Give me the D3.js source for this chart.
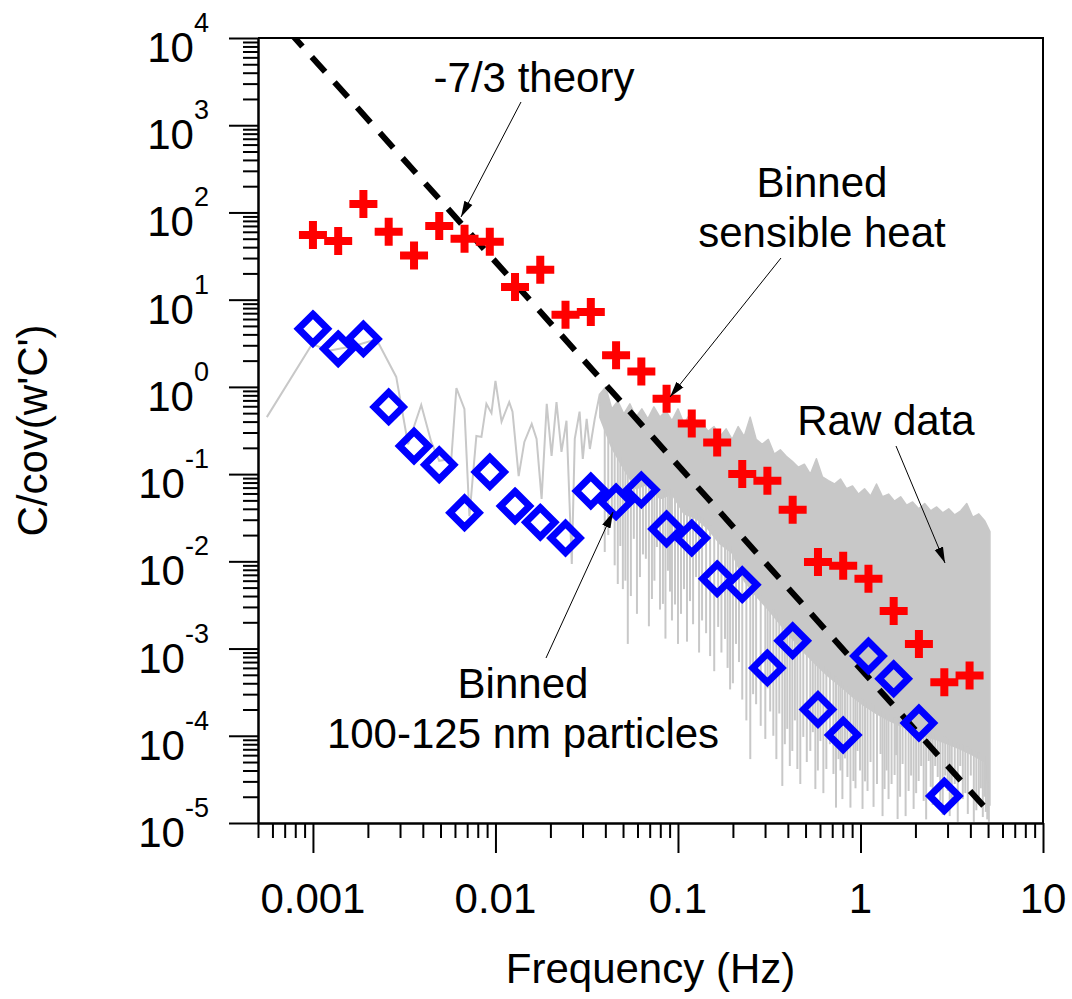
<!DOCTYPE html>
<html>
<head>
<meta charset="utf-8">
<script src="https://cdn.jsdelivr.net/npm/d3@7"></script>
<style>
  body { margin: 0; background: #fff; }
  svg { display: block; font-family: "Liberation Sans", Arial, sans-serif; }
</style>
</head>
<body>
<svg id="chart" width="1072" height="999"></svg>
<script>
// Binned cospectra (one bin every ~0.14 decade)
const binFreq = [0.001, 0.001375, 0.00189, 0.0026, 0.00358, 0.00492, 0.00677, 0.00931, 0.0128,
  0.0176, 0.0242, 0.0333, 0.0458, 0.063, 0.0866, 0.119, 0.164, 0.225, 0.309, 0.425, 0.585,
  0.804, 1.106, 1.52, 2.09, 2.88, 3.96];
const heatValues = [55, 47, 125, 60, 32, 70, 50, 46, 14, 22, 6.7, 7.2, 2.3, 1.5, 0.73, 0.38,
  0.23, 0.1, 0.084, 0.039, 0.0098, 0.0089, 0.0063, 0.0027, 0.00113, 0.00041, 0.00049];
const particleValues = [4.63, 2.73, 3.55, 0.59, 0.21, 0.128, 0.036, 0.106, 0.043, 0.028, 0.0185,
  0.064, 0.048, 0.066, 0.0235, 0.0185, 0.0063, 0.0054, 0.0006, 0.00123, 0.0002, 0.000102,
  0.00082, 0.00045, 0.00014, 0.0000204];

// Raw spectrum, low frequency part (single visible trace)
const rawLowFreq = [0.000559, 0.00099, 0.00122, 0.00168, 0.00211, 0.0023, 0.00286, 0.00332,
  0.00392, 0.00445, 0.00492, 0.00573, 0.00611, 0.00676, 0.0072, 0.00786, 0.00838, 0.00892,
  0.00951, 0.01, 0.0108, 0.0119, 0.0124, 0.0134, 0.0144, 0.0158, 0.0168, 0.0179, 0.0191,
  0.0203, 0.0216, 0.023, 0.0245, 0.0262, 0.0272, 0.0289, 0.0301, 0.0316, 0.0329, 0.035];
const rawLowValue = [0.45, 3.1, 2.6, 2.95, 3.4, 3.1, 1.3, 0.22, 0.62, 0.234, 0.142, 0.149, 0.97,
  0.56, 0.033, 0.274, 0.267, 0.64, 0.5, 1.17, 0.4, 0.67, 0.52, 0.095, 0.234, 0.376, 0.253,
  0.052, 0.64, 0.162, 0.67, 0.18, 0.41, 0.0093, 0.253, 0.52, 0.149, 0.43, 0.194, 0.43];

// Raw spectrum, high frequency part: dense band (upper edge, lower edge of solid core)
const bandFreq = [0.0373, 0.0402, 0.0434, 0.0468, 0.0505, 0.0545, 0.0588, 0.0634, 0.0684,
  0.0738, 0.0797, 0.0859, 0.0927, 0.1, 0.1079, 0.1164, 0.1256, 0.1355, 0.1462, 0.1577, 0.1701,
  0.1835, 0.198, 0.2137, 0.2305, 0.2487, 0.2683, 0.2895, 0.3124, 0.337, 0.3636, 0.3922, 0.4231,
  0.4566, 0.4926, 0.5314, 0.5733, 0.6185, 0.6674, 0.72, 0.7768, 0.838, 0.9041, 0.9754, 1.052,
  1.135, 1.224, 1.321, 1.425, 1.537, 1.659, 1.789, 1.93, 2.083, 2.247, 2.424, 2.615, 2.822,
  3.044, 3.284, 3.543, 3.823, 4.124, 4.45, 4.801, 5.12];
const bandTop = [0.83, 1.0, 0.56, 0.69, 0.49, 0.64, 0.45, 0.56, 0.43, 0.59, 0.45, 0.53, 0.41,
  0.56, 0.38, 0.49, 0.35, 0.38, 0.31, 0.35, 0.27, 0.33, 0.25, 0.35, 0.27, 0.45, 0.25, 0.22,
  0.25, 0.17, 0.19, 0.16, 0.14, 0.12, 0.13, 0.1, 0.15, 0.093, 0.084, 0.077, 0.088, 0.068,
  0.073, 0.059, 0.068, 0.056, 0.077, 0.055, 0.059, 0.049, 0.055, 0.044, 0.048, 0.04, 0.046,
  0.038, 0.042, 0.036, 0.04, 0.034, 0.038, 0.046, 0.032, 0.035, 0.029, 0.022];
const bandBottomFreq = [0.0373, 0.0434, 0.0505, 0.0588, 0.0684, 0.0797, 0.0927, 0.1079,
  0.1256, 0.1462, 0.1701, 0.198, 0.2305, 0.2683, 0.3124, 0.3636, 0.4231, 0.4926, 0.5733,
  0.6674, 0.7768, 0.9041, 1.052, 1.224, 1.425, 1.659, 1.93, 2.247, 2.615, 3.044, 3.543,
  4.124, 4.801, 5.12];
const bandBottom = [0.45, 0.2, 0.115, 0.068, 0.077, 0.052, 0.059, 0.035, 0.031, 0.0235,
  0.0158, 0.0125, 0.006, 0.004, 0.0028, 0.0019, 0.0013, 0.0009, 0.00065, 0.00048, 0.00037,
  0.00028, 0.00022, 0.00018, 0.00015, 0.00013, 0.000115, 0.0001, 0.00009, 0.00008,
  0.00007, 0.00006, 0.00005, 0.000016];

// Downward spikes below the band
const spikeFreq = [0.0397, 0.0415, 0.0434, 0.045, 0.0468, 0.0483, 0.0499, 0.0515, 0.0531,
  0.0552, 0.0573, 0.0596, 0.0619, 0.0643, 0.0667, 0.0693, 0.072, 0.0743, 0.0767, 0.0797,
  0.0827, 0.0854, 0.0881, 0.0904, 0.0927, 0.0963, 0.1, 0.1039, 0.1079, 0.1121, 0.1164, 0.121,
  0.1256, 0.1305, 0.1355, 0.1426, 0.15, 0.158, 0.166, 0.173, 0.181, 0.187, 0.193, 0.2, 0.208,
  0.216, 0.225, 0.237, 0.249, 0.258, 0.268, 0.284, 0.301, 0.31, 0.32, 0.333, 0.346, 0.359,
  0.373, 0.385, 0.397, 0.41, 0.423, 0.437, 0.451, 0.468, 0.486, 0.508, 0.531, 0.548, 0.566,
  0.584, 0.603, 0.626, 0.65, 0.68, 0.711, 0.734, 0.758, 0.777, 0.796, 0.822, 0.848, 0.881,
  0.915, 0.939, 0.963, 0.994, 1.026, 1.059, 1.093, 1.135, 1.179, 1.232, 1.288, 1.321, 1.355,
  1.39, 1.425, 1.48, 1.538, 1.567, 1.597, 1.648, 1.701, 1.767, 1.835, 1.894, 1.955, 2.018,
  2.083, 2.15, 2.219, 2.29, 2.364, 2.425, 2.487, 2.567, 2.649, 2.734, 2.822, 2.912, 3.006,
  3.083, 3.162, 3.285, 3.412, 3.522, 3.636, 3.752, 3.873, 4.022, 4.178, 4.312, 4.45, 4.563,
  4.68, 4.77, 4.86, 4.95, 5.05];
const spikeValue = [0.0128, 0.02, 0.0306, 0.009, 0.0055, 0.015, 0.0048, 0.006, 0.00113, 0.004,
  0.0181, 0.0025, 0.0066, 0.012, 0.0107, 0.0018, 0.0037, 0.006, 0.0146, 0.0028, 0.00325,
  0.0013, 0.0078, 0.0045, 0.0021, 0.0032, 0.00113, 0.0025, 0.0048, 0.0012, 0.0035, 0.0019,
  0.0066, 0.0009, 0.0021, 0.0015, 0.00082, 0.00055, 0.00177, 0.0009, 0.00129, 0.0006,
  0.00034, 0.0004, 0.00113, 0.0007, 0.00026, 0.00015, 0.000054, 0.0003, 0.00023, 0.00013,
  0.000092, 0.00035, 0.00019, 0.0001, 0.000054, 0.00018, 0.0000266, 0.00008, 0.00012,
  0.000045, 0.000067, 0.00015, 0.0000416, 0.000028, 0.000097, 0.00005, 0.000067, 0.00011,
  0.0000245, 0.00004, 0.000087, 0.000022, 0.0000416, 0.00008, 0.0000365, 0.000015, 0.000054,
  0.00004, 0.0000188, 0.000055, 0.0000337, 0.000015, 0.0000303, 0.000025, 0.000067, 0.00004,
  0.0000145, 0.00003, 0.0000233, 0.00005, 0.0000153, 0.000028, 0.0000618, 0.000012,
  0.0000245, 0.00004, 0.0000188, 0.000028, 0.0000355, 0.00006, 0.0000111, 0.00002,
  0.0000475, 0.000012, 0.0000233, 0.000035, 0.0000145, 0.000022, 0.0000303, 0.000045,
  0.0000179, 0.000011, 0.0000514, 0.000026, 0.0000161, 0.000045, 0.0000337, 0.000018,
  0.0000124, 0.000035, 0.0000233, 0.000012, 0.0000161, 0.000028, 0.0000103, 0.000045,
  0.0000188, 0.000022, 0.0000127, 0.000035, 0.0000103, 0.000014, 0.0000179, 0.000025,
  0.0000117, 0.00002, 0.0000134, 0.000011, 0.0000103];

// -7/3 power law
const theoryFreq = [0.00074, 5.15];
const theoryCoef = 5.87e-4;
const theorySlope = -7 / 3;

const xTickValues = [0.001, 0.01, 0.1, 1, 10];
const xTickLabels = ["0.001", "0.01", "0.1", "1", "10"];
const yExponents = [4, 3, 2, 1, 0, -1, -2, -3, -4, -5];

const GRAY = "#c8c8c8";
const plot = { left: 258, top: 38, right: 1043, bottom: 823 };

const svg = d3.select("#chart");

const x = d3.scaleLog().domain([5e-4, 10]).range([plot.left, plot.right]);
const y = d3.scaleLog().domain([1e-5, 1e4]).range([plot.bottom, plot.top]);

svg.append("clipPath").attr("id", "plot-clip")
  .append("rect")
  .attr("x", plot.left).attr("y", plot.top)
  .attr("width", plot.right - plot.left).attr("height", plot.bottom - plot.top);

const g = svg.append("g").attr("clip-path", "url(#plot-clip)");

const line = d3.line().x((d) => x(d[0])).y((d) => y(d[1]));

// raw data: dense band first, then spikes, then the low frequency trace
const bandPoly = bandFreq.map((f, i) => [f, bandTop[i]])
  .concat(bandBottomFreq.map((f, i) => [f, bandBottom[i]]).reverse());
g.append("path")
  .attr("d", line(bandPoly) + "Z")
  .attr("fill", GRAY)
  .attr("stroke", GRAY)
  .attr("stroke-width", 1.5)
  .attr("stroke-linejoin", "round");

const bottomPx = d3.scaleLog().domain(bandBottomFreq).range(bandBottom.map((v) => y(v)));
g.append("g")
  .selectAll("line")
  .data(spikeFreq.map((f, i) => [f, spikeValue[i]]))
  .join("line")
  .attr("x1", (d) => x(d[0])).attr("x2", (d) => x(d[0]))
  .attr("y1", (d) => bottomPx(d[0]) - 6)
  .attr("y2", (d) => y(d[1]))
  .attr("stroke", GRAY)
  .attr("stroke-width", 2);

g.append("path")
  .datum(rawLowFreq.map((f, i) => [f, rawLowValue[i]]).concat([[bandFreq[0], bandTop[0]]]))
  .attr("d", line)
  .attr("fill", "none")
  .attr("stroke", GRAY)
  .attr("stroke-width", 2);

// theory line
g.append("path")
  .datum(theoryFreq.map((f) => [f, theoryCoef * Math.pow(f, theorySlope)]))
  .attr("d", line)
  .attr("fill", "none")
  .attr("stroke", "#000")
  .attr("stroke-width", 6)
  .attr("stroke-dasharray", "20,14");

// binned particles: open blue diamonds
const D = 14.5;
g.append("g")
  .selectAll("path")
  .data(particleValues.map((v, i) => [binFreq[i], v]))
  .join("path")
  .attr("transform", (d) => `translate(${x(d[0])},${y(d[1])})`)
  .attr("d", `M0,${-D}L${D},0L0,${D}L${-D},0Z`)
  .attr("fill", "none")
  .attr("stroke", "#0000ff")
  .attr("stroke-width", 7)
  .attr("stroke-linejoin", "miter");

// binned sensible heat: red crosses
const C = 14;
g.append("g")
  .selectAll("path")
  .data(heatValues.map((v, i) => [binFreq[i], v]))
  .join("path")
  .attr("transform", (d) => `translate(${x(d[0])},${y(d[1])})`)
  .attr("d", `M${-C},0H${C}M0,${-C}V${C}`)
  .attr("stroke", "#ff0000")
  .attr("stroke-width", 8);

// frame
svg.append("path")
  .attr("d", `M${plot.left},${plot.top}H${plot.right}V${plot.bottom}`)
  .attr("fill", "none")
  .attr("stroke", "#000")
  .attr("stroke-width", 2);

// axes
const xMinor = x.ticks().filter((t) => !xTickValues.some((m) => Math.abs(m - t) / m < 1e-6));
const yMajorVals = yExponents.map((e) => Math.pow(10, e));
const yMinor = y.ticks().filter((t) => !yMajorVals.some((m) => Math.abs(m - t) / m < 1e-6));

function styleAxis(sel) {
  sel.select(".domain").attr("stroke", "#000").attr("stroke-width", 2);
  sel.selectAll(".tick line").attr("stroke", "#000").attr("stroke-width", 2);
  sel.selectAll(".tick text").remove();
}

svg.append("g")
  .attr("transform", `translate(0,${plot.bottom})`)
  .call(d3.axisBottom(x).tickValues(xMinor).tickSize(15).tickSizeOuter(0).tickFormat(""))
  .call(styleAxis);
svg.append("g")
  .attr("transform", `translate(0,${plot.bottom})`)
  .call(d3.axisBottom(x).tickValues(xTickValues).tickSize(30).tickSizeOuter(0).tickFormat(""))
  .call(styleAxis);
svg.append("g")
  .attr("transform", `translate(${plot.left},0)`)
  .call(d3.axisLeft(y).tickValues(yMinor).tickSize(15).tickSizeOuter(0).tickFormat(""))
  .call(styleAxis);
svg.append("g")
  .attr("transform", `translate(${plot.left},0)`)
  .call(d3.axisLeft(y).tickValues(yMajorVals).tickSize(29).tickSizeOuter(0).tickFormat(""))
  .call(styleAxis);

// tick labels
svg.append("g")
  .selectAll("text")
  .data(xTickValues)
  .join("text")
  .attr("x", (d) => x(d))
  .attr("y", 913)
  .attr("text-anchor", "middle")
  .attr("font-size", 42)
  .text((d, i) => xTickLabels[i]);

yExponents.forEach((e) => {
  const t = svg.append("text")
    .attr("x", 209)
    .attr("y", y(Math.pow(10, e)) + 24)
    .attr("text-anchor", "end")
    .attr("font-size", 42);
  t.append("tspan").text("10");
  t.append("tspan").attr("font-size", 27).attr("dy", -30).text(String(e));
});

// axis titles
svg.append("text")
  .attr("x", (plot.left + plot.right) / 2)
  .attr("y", 983)
  .attr("text-anchor", "middle")
  .attr("font-size", 42)
  .text("Frequency (Hz)");

svg.append("text")
  .attr("transform", `translate(47,${(plot.top + plot.bottom) / 2}) rotate(-90)`)
  .attr("text-anchor", "middle")
  .attr("font-size", 42)
  .text("C/cov(w'C')");

// annotations
svg.append("defs").append("marker")
  .attr("id", "arrow")
  .attr("markerUnits", "userSpaceOnUse")
  .attr("markerWidth", 18).attr("markerHeight", 12)
  .attr("viewBox", "0 -6 18 12")
  .attr("refX", 16).attr("refY", 0)
  .attr("orient", "auto")
  .append("path")
  .attr("d", "M0,-4.5L16,0L0,4.5Z")
  .attr("fill", "#000");

const notes = [
  { lines: ["-7/3 theory"], x: 534, y: 92, from: [521, 102], to: [461, 217] },
  { lines: ["Binned", "sensible heat"], x: 822, y: 197, from: [781, 258], to: [670, 397] },
  { lines: ["Raw data"], x: 886, y: 435, from: [896, 446], to: [945, 563] },
  { lines: ["Binned", "100-125 nm particles"], x: 523, y: 698, from: [546, 658], to: [613, 512] },
];

notes.forEach((n) => {
  n.lines.forEach((s, i) => {
    svg.append("text")
      .attr("x", n.x)
      .attr("y", n.y + i * 50)
      .attr("text-anchor", "middle")
      .attr("font-size", 42)
      .text(s);
  });
  svg.append("line")
    .attr("x1", n.from[0]).attr("y1", n.from[1])
    .attr("x2", n.to[0]).attr("y2", n.to[1])
    .attr("stroke", "#000")
    .attr("stroke-width", 1)
    .attr("marker-end", "url(#arrow)");
});
</script>
</body>
</html>
